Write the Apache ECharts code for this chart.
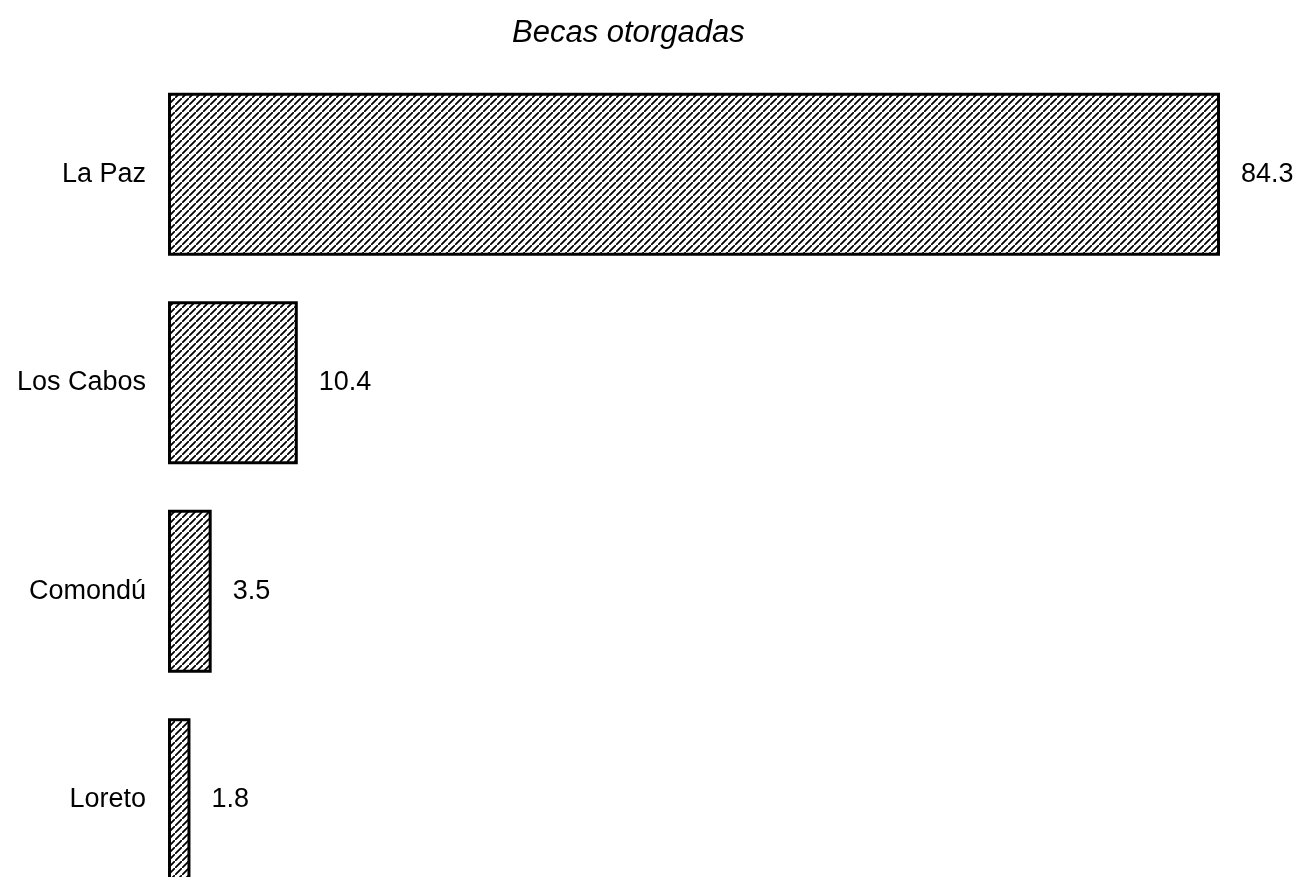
<!DOCTYPE html>
<html>
<head>
<meta charset="utf-8">
<script src="https://cdn.jsdelivr.net/npm/echarts@6/dist/echarts.min.js"></script>
<style>
  html, body { margin: 0; padding: 0; background: #fff; }
  #chart { width: 1300px; height: 877px; }
</style>
</head>
<body>
<div id="chart"></div>
<script>
const titleText = "Becas otorgadas";
const municipios = ["La Paz", "Los Cabos", "Comondú", "Loreto"];
const becas = [84.3, 10.4, 3.5, 1.8];
const xMax = 84.3;

// diagonal hatch tile
function hatch() {
  const s = 7;
  const c = document.createElement("canvas");
  c.width = s;
  c.height = s;
  const g = c.getContext("2d");
  g.fillStyle = "#fff";
  g.fillRect(0, 0, s, s);
  g.strokeStyle = "#000";
  g.lineWidth = 1.8;
  g.beginPath();
  g.moveTo(-1, s + 1); g.lineTo(s + 1, -1);
  g.moveTo(-s - 1, 1); g.lineTo(1, -s - 1);
  g.moveTo(s - 1, 2 * s + 1); g.lineTo(2 * s + 1, s - 1);
  g.stroke();
  return c;
}

const chart = echarts.init(document.getElementById("chart"));
chart.setOption({
  backgroundColor: "#ffffff",
  animation: false,
  title: {
    text: titleText,
    left: 507,
    top: 13,
    textStyle: {
      fontFamily: "Liberation Sans",
      fontStyle: "italic",
      fontWeight: "normal",
      fontSize: 31,
      color: "#000"
    }
  },
  grid: {
    left: 168, right: 80, top: 70, height: 834,
    containLabel: false,
    outerBoundsMode: "none"
  },
  xAxis: {
    type: "value",
    min: 0,
    max: xMax,
    show: false
  },
  yAxis: {
    type: "category",
    inverse: true,
    data: municipios,
    axisLine: { show: false },
    axisTick: { show: false },
    splitLine: { show: false },
    axisLabel: {
      margin: 22,
      fontFamily: "Liberation Sans",
      fontSize: 27,
      color: "#000"
    }
  },
  series: [{
    type: "bar",
    data: becas,
    barWidth: 163,
    itemStyle: {
      color: { image: hatch(), repeat: "repeat" },
      borderColor: "#000",
      borderWidth: 3
    },
    label: {
      show: true,
      position: "right",
      distance: 21,
      fontFamily: "Liberation Sans",
      fontSize: 27,
      color: "#000",
      formatter: p => p.value.toFixed(1)
    }
  }]
});
</script>
</body>
</html>
